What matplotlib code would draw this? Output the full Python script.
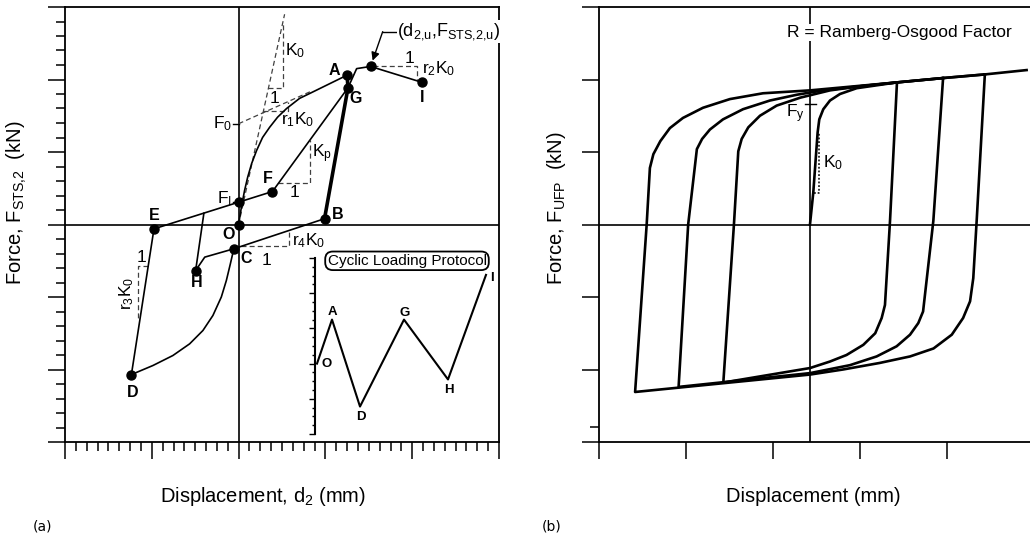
"""
Two-panel hysteresis schematic.

(a) multi-linear STS force-displacement model with the cyclic loading
    protocol as an inset,
(b) Ramberg-Osgood loops for the UFP.
"""

import matplotlib
matplotlib.use("Agg")
import matplotlib.pyplot as plt
from matplotlib.ticker import MultipleLocator, FixedLocator

plt.rcParams["font.family"] = ["Liberation Sans", "DejaVu Sans"]
plt.rcParams["mathtext.default"] = "regular"

# ------------------------------------------------------------------ #
# Panel (a) data  (displacement, force) in schematic units
# ------------------------------------------------------------------ #
# labelled state points
POINT_X = [0.0, 0.0, 0.39, -0.975, 1.25, 1.26, 0.99, 1.52, 2.115, -0.055, -0.495, -1.235]
POINT_Y = [0.0, 0.31, 0.455, -0.06, 2.06, 1.885, 0.08, 2.18, 1.96, -0.335, -0.635, -2.07]

# O -> A, curved branch approaching r1*K0
OA_X = [0.0, 0.035, 0.069, 0.104, 0.150, 0.207, 0.276, 0.357, 0.449, 0.553, 0.703, 0.841, 1.25]
OA_Y = [0.0, 0.26, 0.47, 0.65, 0.84, 1.02, 1.20, 1.34, 1.48, 1.60, 1.74, 1.82, 2.06]
# A -> G -> B unloading (travelled twice, drawn thick)
AB_X = [1.25, 1.26, 0.99]
AB_Y = [2.06, 1.885, 0.08]
# B -> C -> H
BH_X = [0.99, -0.055, -0.39, -0.495]
BH_Y = [0.08, -0.335, -0.45, -0.635]
# C -> D
CD_X = [-0.055, -0.095, -0.141, -0.199, -0.296, -0.411, -0.564, -0.757, -0.987, -1.235]
CD_Y = [-0.335, -0.543, -0.772, -1.0, -1.255, -1.462, -1.646, -1.807, -1.945, -2.07]
# D -> E -> F -> G -> ultimate -> I
DI_X = [-1.235, -0.975, 0.39, 1.26, 1.36, 1.52, 2.115]
DI_Y = [-2.07, -0.06, 0.455, 1.885, 2.15, 2.18, 1.96]
# H -> back onto the E-F branch
HR_X = [-0.495, -0.40]
HR_Y = [-0.635, 0.155]

# dashed construction lines / slope triangles
K0_LINE_X = [0.0, 0.53]
K0_LINE_Y = [0.0, 2.90]
K0_TRI_X = [0.343, 0.507, 0.507]
K0_TRI_Y = [1.876, 1.876, 2.77]
F0_LINE_X = [0.0, 0.84]
F0_LINE_Y = [1.39, 1.84]
R1_TRI_X = [0.276, 0.565, 0.565]
R1_TRI_Y = [1.57, 1.57, 1.69]
KP_TRI_X = [0.458, 0.818, 0.818]
KP_TRI_Y = [0.57, 0.57, 1.16]
R4_TRI_X = [0.03, 0.576, 0.576]
R4_TRI_Y = [-0.30, -0.30, -0.09]
R2_TRI_X = [1.55, 2.05, 2.05]
R2_TRI_Y = [2.18, 2.18, 1.99]
R3_TRI_X = [-1.045, -1.16, -1.16]
R3_TRI_Y = [-0.566, -0.566, -1.30]

# inset: cyclic loading protocol (step, amplitude)
PROTO_LABELS = ["O", "A", "D", "G", "H", "I"]
PROTO_T = [0.2, 1.7, 4.5, 8.9, 13.3, 17.1]
PROTO_D = [0.0, 1.25, -1.22, 1.25, -0.45, 2.52]

# ------------------------------------------------------------------ #
# Panel (b) data: Ramberg-Osgood loops
# ------------------------------------------------------------------ #
INIT_X = [0.0, 0.038, 0.088, 0.107, 0.153, 0.23, 0.345, 0.537, 1.0, 1.53, 2.01, 2.49]
INIT_Y = [0.0, 0.44, 1.27, 1.45, 1.59, 1.71, 1.80, 1.88, 1.96, 2.02, 2.07, 2.13]

LOOP1_X = [2.01, 1.916, 1.877, 1.84, 1.76, 1.63, 1.42, 1.15, 0.80, 0.38, 0.0, -2.01,
           -1.877, -1.84, -1.80, -1.72, -1.61, -1.46, -1.23, -0.92, -0.54, 0.0, 1.0, 1.53, 2.01]
LOOP1_Y = [2.07, 0.05, -0.74, -1.06, -1.29, -1.52, -1.71, -1.82, -1.91, -2.0, -2.07, -2.31,
           0.0, 0.78, 0.97, 1.15, 1.33, 1.47, 1.61, 1.73, 1.81, 1.85, 1.96, 2.02, 2.07]

LOOP2_X = [1.53, 1.418, 1.30, 1.245, 1.15, 0.996, 0.766, 0.46, 0.0, -1.51,
           -1.40, -1.30, -1.24, -1.15, -1.00, -0.77, -0.46, -0.15, 0.15, 0.6, 1.0, 1.53]
LOOP2_Y = [2.02, 0.05, -1.20, -1.36, -1.52, -1.68, -1.82, -1.94, -2.05, -2.24,
           0.0, 1.04, 1.18, 1.31, 1.45, 1.59, 1.71, 1.79, 1.85, 1.91, 1.96, 2.02]

LOOP3_X = [1.0, 0.92, 0.862, 0.824, 0.75, 0.613, 0.42, 0.23, 0.0, -0.996,
           -0.874, -0.824, -0.785, -0.709, -0.575, -0.383, -0.11, 0.23, 0.6, 1.0]
LOOP3_Y = [1.96, 0.05, -1.11, -1.29, -1.50, -1.66, -1.80, -1.89, -1.98, -2.18,
           0.0, 1.01, 1.18, 1.34, 1.50, 1.64, 1.75, 1.85, 1.91, 1.96]

K0B_X = [0.045, 0.107, 0.107]
K0B_Y = [0.44, 0.44, 1.27]
FY_X = [-0.057, 0.07]
FY_Y = [1.66, 1.66]

# ------------------------------------------------------------------ #
# Style
# ------------------------------------------------------------------ #
LW = 1.2
DASH = dict(color="0.25", lw=0.9, ls=(0, (4, 2.5)))
ANN = 12.5
BOLD = dict(fontsize=11.5, fontweight="bold", ha="center", va="center")


def style_frame(ax):
    for sp in ax.spines.values():
        sp.set_linewidth(1.3)
    ax.tick_params(which="both", direction="out", width=1.1,
                   labelbottom=False, labelleft=False, top=False, right=False)
    ax.tick_params(which="major", length=12)
    ax.tick_params(which="minor", length=6.5)


def plot_panel_a(fig):
    ax = fig.add_axes([65 / 1030, 100 / 542, 434 / 1030, 435 / 542])
    ax.set_xlim(-2, 3)
    ax.set_ylim(-3, 3)
    ax.xaxis.set_major_locator(MultipleLocator(1))
    ax.xaxis.set_minor_locator(MultipleLocator(0.125))
    ax.yaxis.set_major_locator(MultipleLocator(1))
    ax.yaxis.set_minor_locator(MultipleLocator(0.2))
    style_frame(ax)
    ax.axhline(0, color="k", lw=1.2, zorder=1)
    ax.axvline(0, color="k", lw=1.2, zorder=1)

    # dashed construction
    for xs, ys in [(K0_LINE_X, K0_LINE_Y), (K0_TRI_X, K0_TRI_Y), (F0_LINE_X, F0_LINE_Y),
                   (R1_TRI_X, R1_TRI_Y), (KP_TRI_X, KP_TRI_Y), (R4_TRI_X, R4_TRI_Y),
                   (R2_TRI_X, R2_TRI_Y), (R3_TRI_X, R3_TRI_Y)]:
        ax.plot(xs, ys, zorder=2, **DASH)

    # hysteresis path
    for xs, ys in [(OA_X, OA_Y), (BH_X, BH_Y), (CD_X, CD_Y), (DI_X, DI_Y), (HR_X, HR_Y)]:
        ax.plot(xs, ys, color="k", lw=LW, zorder=3)
    ax.plot(AB_X, AB_Y, color="k", lw=2.6, zorder=3, solid_capstyle="round")
    ax.plot(POINT_X, POINT_Y, ls="none", marker="o", ms=6.5, color="k", zorder=4)

    # F0 / FI markers on the force axis
    ax.plot([-0.06, 0.0], [F0_LINE_Y[0], F0_LINE_Y[0]], color="k", lw=1.0)
    ax.plot([-0.06, 0.0], [POINT_Y[1], POINT_Y[1]], color="k", lw=1.0)

    # point letters
    for s, x, y in [("A", 1.106, 2.12), ("G", 1.35, 1.74), ("I", 2.12, 1.75),
                    ("B", 1.14, 0.14), ("O", -0.115, -0.14), ("C", 0.09, -0.47),
                    ("E", -0.97, 0.12), ("H", -0.484, -0.80), ("D", -1.22, -2.32),
                    ("F", 0.334, 0.635)]:
        ax.text(x, y, s, **BOLD)

    # stiffness annotations
    ax.text(0.54, 2.40, "K$_0$", fontsize=ANN, ha="left", va="center")
    ax.text(0.415, 1.74, "1", fontsize=ANN, ha="center", va="center")
    ax.text(-0.08, 1.39, "F$_0$", fontsize=ANN, ha="right", va="center")
    ax.text(0.49, 1.44, "r$_1$K$_0$", fontsize=ANN, ha="left", va="center")
    ax.text(0.84, 0.98, "K$_p$", fontsize=ANN, ha="left", va="center")
    ax.text(0.645, 0.44, "1", fontsize=ANN, ha="center", va="center")
    ax.text(-0.08, 0.36, "F$_I$", fontsize=ANN, ha="right", va="center")
    ax.text(0.61, -0.22, "r$_4$K$_0$", fontsize=ANN, ha="left", va="center")
    ax.text(0.32, -0.50, "1", fontsize=ANN, ha="center", va="center")
    ax.text(-1.12, -0.455, "1", fontsize=ANN, ha="center", va="center")
    ax.text(-1.29, -0.95, "r$_3$K$_0$", fontsize=ANN, ha="center", va="center", rotation=90)
    ax.text(1.97, 2.29, "1", fontsize=ANN, ha="center", va="center")
    ax.text(2.11, 2.15, "r$_2$K$_0$", fontsize=ANN, ha="left", va="center")

    # ultimate point call-out
    ax.plot([1.66, 1.82], [2.66, 2.66], color="k", lw=1.0)
    ax.annotate("", xy=(1.544, 2.26), xytext=(1.66, 2.66),
                arrowprops=dict(arrowstyle="-|>", color="k", lw=1.0,
                                mutation_scale=12, shrinkA=0, shrinkB=0))
    ax.text(1.83, 2.66, "(d$_{2{,}u}$,F$_{STS{,}2{,}u}$)", fontsize=13, ha="left",
            va="center", clip_on=False, zorder=6,
            bbox=dict(boxstyle="square,pad=0.05", fc="white", ec="none"))

    # inset: loading protocol
    axi = fig.add_axes([315 / 1030, 108 / 542, 177 / 1030, 176 / 542])
    axi.patch.set_alpha(0)
    for k in ["top", "right", "bottom"]:
        axi.spines[k].set_visible(False)
    axi.spines["left"].set_linewidth(1.5)
    axi.set_xlim(0, 17.7)
    axi.set_ylim(-2, 3)
    axi.set_xticks([])
    axi.yaxis.set_major_locator(MultipleLocator(1))
    axi.yaxis.set_minor_locator(MultipleLocator(0.25))
    axi.tick_params(axis="y", which="both", direction="out", width=1.0, labelleft=False)
    axi.tick_params(axis="y", which="major", length=4.5)
    axi.tick_params(axis="y", which="minor", length=2.5)
    axi.plot(PROTO_T, PROTO_D, color="k", lw=1.5, clip_on=False)
    for s, x, y in zip(PROTO_LABELS, [1.15, 1.7, 4.6, 9.0, 13.4, 17.7],
                       [0.0, 1.47, -1.52, 1.44, -0.76, 2.44]):
        axi.text(x, y, s, fontsize=9.5, fontweight="bold", ha="center", va="center")
    axi.text(9.2, 2.92, "Cyclic Loading Protocol", fontsize=11, ha="center", va="center",
             clip_on=False,
             bbox=dict(boxstyle="round,pad=0.15,rounding_size=0.5", fc="white", ec="k", lw=1.3))
    return ax


def plot_panel_b(fig):
    ax = fig.add_axes([599 / 1030, 100 / 542, 435 / 1030, 435 / 542])
    ax.set_xlim(-2.425, 2.575)
    ax.set_ylim(-3, 3)
    ax.xaxis.set_major_locator(FixedLocator([-2.425, -1.425, -0.425, 0.575, 1.575, 2.575]))
    ax.yaxis.set_major_locator(MultipleLocator(1))
    ax.yaxis.set_minor_locator(FixedLocator([-2.79]))
    style_frame(ax)
    ax.axhline(0, color="k", lw=1.2, zorder=1)
    ax.axvline(0, color="k", lw=1.2, zorder=1)

    for xs, ys in [(INIT_X, INIT_Y), (LOOP1_X, LOOP1_Y), (LOOP2_X, LOOP2_Y), (LOOP3_X, LOOP3_Y)]:
        ax.plot(xs, ys, color="k", lw=1.9, zorder=3, solid_joinstyle="round")

    ax.plot(K0B_X, K0B_Y, color="k", lw=1.1, ls=(0, (1.2, 1.2)), zorder=2)
    ax.plot(FY_X, FY_Y, color="k", lw=1.0, zorder=2)
    ax.text(0.15, 0.85, "K$_0$", fontsize=ANN, ha="left", va="center")
    ax.text(-0.17, 1.53, "F$_y$", fontsize=ANN, ha="center", va="center")
    ax.text(1.03, 2.65, "R = Ramberg-Osgood Factor", fontsize=12.5, ha="center", va="center",
            bbox=dict(boxstyle="square,pad=0.05", fc="white", ec="none"), zorder=5)
    return ax


def main() -> None:
    fig = plt.figure(figsize=(10.3, 5.42), dpi=100)
    plot_panel_a(fig)
    plot_panel_b(fig)

    lab = dict(fontsize=14.5, ha="center")
    fig.text(17 / 1030, 1 - 285 / 542, "Force, F$_{STS{,}2}$  (kN)", rotation=90,
             va="bottom", **lab)
    fig.text(557 / 1030, 1 - 285 / 542, "Force, F$_{UFP}$  (kN)", rotation=90,
             va="bottom", **lab)
    fig.text(263 / 1030, 1 - 496 / 542, "Displacement, d$_2$ (mm)", va="center", **lab)
    fig.text(813 / 1030, 1 - 496 / 542, "Displacement (mm)", va="center", **lab)
    fig.text(42 / 1030, 1 - 527 / 542, "(a)", fontsize=10, family="DejaVu Sans",
             ha="center", va="center")
    fig.text(552 / 1030, 1 - 527 / 542, "(b)", fontsize=10, family="DejaVu Sans",
             ha="center", va="center")

    fig.savefig("out.png", dpi=100)
    plt.close(fig)


if __name__ == "__main__":
    main()
